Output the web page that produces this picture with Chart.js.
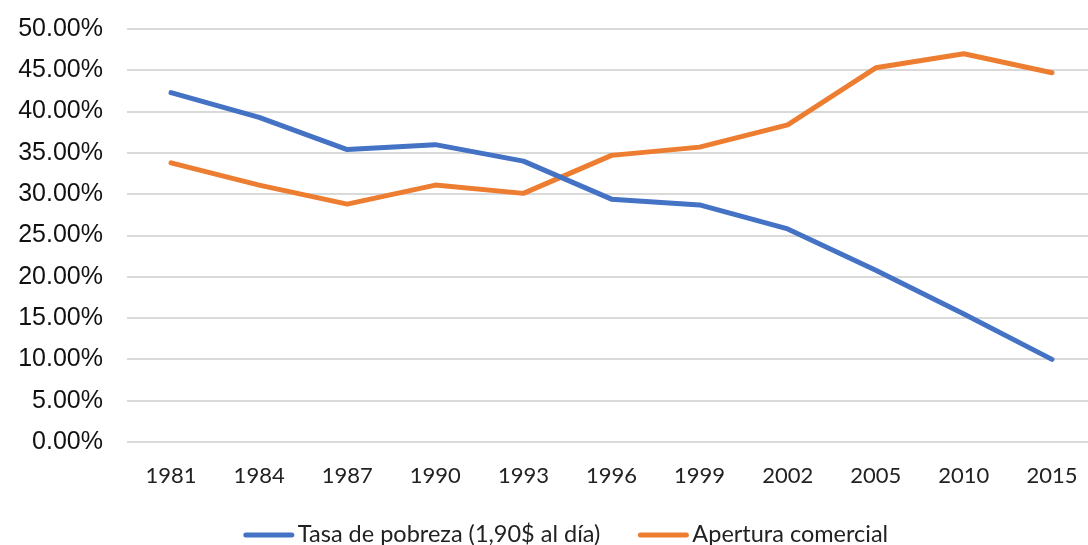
<!DOCTYPE html>
<html>
<head>
<meta charset="utf-8">
<script src="https://cdn.jsdelivr.net/npm/chart.js@4/dist/chart.umd.min.js"></script>
<style>
  html, body { margin: 0; padding: 0; background: #fff; overflow: hidden; }
  #wrap { width: 1096px; height: 545px; position: relative; }
</style>
</head>
<body>
<div id="wrap"><canvas id="c"></canvas></div>
<script>
// categories (years)
var years = ['1981', '1984', '1987', '1990', '1993', '1996', '1999', '2002', '2005', '2010', '2015'];

// series values, in percent
var pobreza = [42.3, 39.3, 35.4, 36.0, 34.0, 29.4, 28.7, 25.8, 20.8, 15.5, 10.0];
var apertura = [33.8, 31.1, 28.8, 31.1, 30.1, 34.7, 35.7, 38.4, 45.3, 47.0, 44.7];

// y tick range
var yMin = 0, yMax = 50, yStep = 5;

var blue = '#4472C4';
var orange = '#ED7D31';

//draws the legend under the axis, excel style (wide gap between items)
var bottomLegend = {
  id: 'bottomLegend',
  afterDraw: function (chart) {
    var ctx = chart.ctx;
    var sets = chart.data.datasets;
    var lineLen = 50, gap = 4, itemGap = 38, cy = 535;
    ctx.save();
    ctx.font = '23.5px Lato';
    var total = 0;
    for (var i = 0; i < sets.length; i++) {
      total += lineLen + gap + ctx.measureText(sets[i].label).width;
      if (i > 0) total += itemGap;
    }
    var x = 566 - total / 2;
    ctx.textBaseline = 'middle';
    ctx.textAlign = 'left';
    for (var j = 0; j < sets.length; j++) {
      ctx.strokeStyle = sets[j].borderColor;
      ctx.lineWidth = 5;
      ctx.lineCap = 'round';
      ctx.beginPath();
      ctx.moveTo(x + 2, cy);
      ctx.lineTo(x + lineLen - 2, cy);
      ctx.stroke();
      x += lineLen + gap;
      ctx.fillStyle = '#222';
      ctx.fillText(sets[j].label, x, cy - 1);
      x += ctx.measureText(sets[j].label).width + itemGap;
    }
    ctx.restore();
  }
};

new Chart(document.getElementById('c'), {
  type: 'line',
  data: {
    labels: years,
    datasets: [
      { label: 'Tasa de pobreza (1,90$ al día)', data: pobreza, borderColor: blue, backgroundColor: blue,
        borderWidth: 5, pointRadius: 0, tension: 0, borderCapStyle: 'round', borderJoinStyle: 'round' },
      { label: 'Apertura comercial', data: apertura, borderColor: orange, backgroundColor: orange,
        borderWidth: 5, pointRadius: 0, tension: 0, borderCapStyle: 'round', borderJoinStyle: 'round' }
    ]
  },
  plugins: [bottomLegend],
  options: {
    responsive: true,
    maintainAspectRatio: false,
    animation: false,
    layout: { padding: { top: 29, left: 0, right: 0, bottom: 52 } },
    plugins: {
      tooltip: { enabled: false },
      legend: { display: false }
    },
    scales: {
      x: {
        offset: true,
        afterFit: function (s) { s.height = 51; },
        grid: { display: false },
        border: { display: false },
        ticks: { color: '#222', padding: 13, font: { family: 'Lato', size: 22 } }
      },
      y: {
        min: yMin, max: yMax,
        //fixed width, and no extra room above the top label
        afterFit: function (s) { s.width = 127; s.paddingTop = 0; s.paddingBottom = 0; },
        grid: { color: '#d9d9d9', lineWidth: 2, drawTicks: false },
        border: { display: false },
        ticks: {
          stepSize: yStep,
          padding: 24,
          color: '#111',
          font: { family: 'Liberation Sans', size: 25 },
          callback: function (v) { return v.toFixed(2) + '%'; }
        }
      }
    }
  }
});
</script>
</body>
</html>
